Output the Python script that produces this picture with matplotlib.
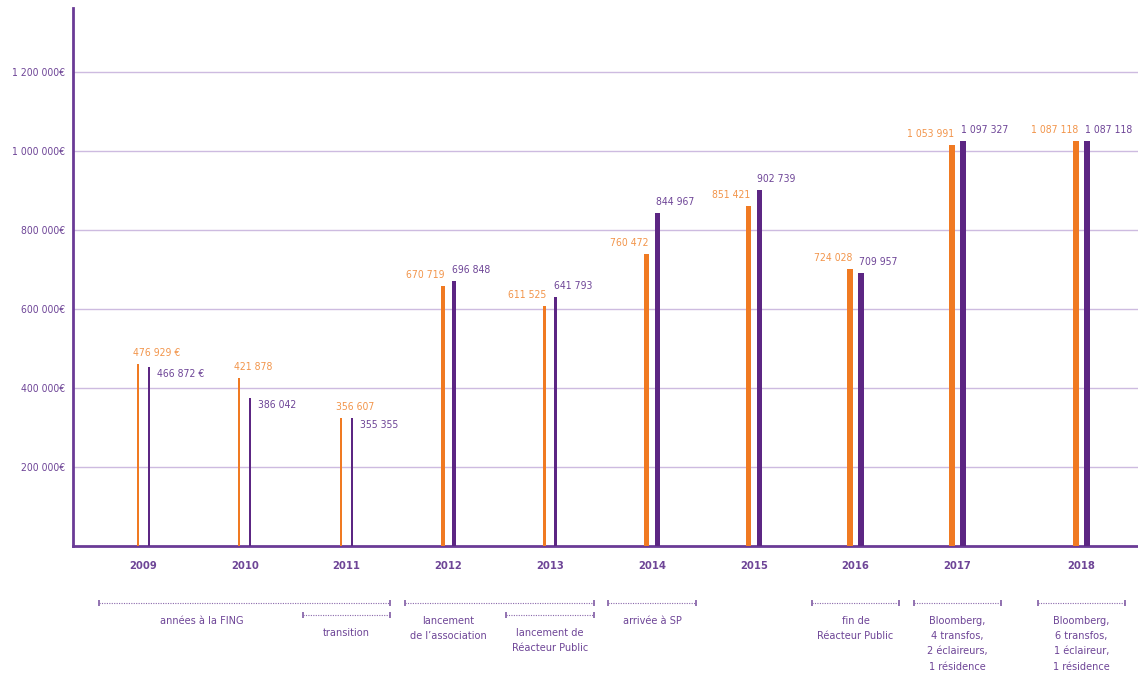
import matplotlib.pyplot as plt
import numpy as np

plt.rcParams['font.family'] = ['DejaVu Sans']
plt.rcParams['font.stretch'] = 'condensed'

# donnees
annees = ['2009', '2010', '2011', '2012', '2013', '2014', '2015', '2016', '2017', '2018']
# hauteur des barres telles que dessinees
budget_orange = [461600, 425500, 324300, 658000, 608000, 738000, 860900, 700200, 1014000, 1025000]
budget_violet = [452600, 375800, 324300, 671600, 629600, 844000, 900600, 691800, 1025000, 1025000]
etiquettes_orange = ['476 929 €', '421 878', '356 607', '670 719', '611 525', '760 472',
                     '851 421', '724 028', '1 053 991', '1 087 118']
etiquettes_violet = ['466 872 €', '386 042', '355 355', '696 848', '641 793', '844 967',
                     '902 739', '709 957', '1 097 327', '1 087 118']
graduations = [200000, 400000, 600000, 800000, 1000000, 1200000]

# periodes sous l'axe
periodes = ['années à la FING', 'transition', 'lancement\nde l’association',
            'lancement de\nRéacteur Public', 'arrivée à SP', 'fin de\nRéacteur Public',
            'Bloomberg,\n4 transfos,\n2 éclaireurs,\n1 résidence',
            'Bloomberg,\n6 transfos,\n1 éclaireur,\n1 résidence']
periode_debut = [0, 2, 3, 4, 5, 7, 8, 9]
periode_fin = [2, 2, 4, 4, 5, 7, 8, 9]
periode_rang = [0, 1, 0, 1, 0, 0, 0, 0]

orange = '#f07a22'
orange_txt = '#f2954b'
violet = '#5c2683'
violet_txt = '#6e4597'
violet_clair = '#cdbbe0'

W, H = 1138, 673
fig = plt.figure(figsize=(W / 100, H / 100), dpi=100)
ax = fig.add_axes([73 / W, 1 - 546 / H, 1 - 73 / W, 538 / H])

px = 1 / 101.8  # largeur d'un pixel en unites de l'axe x
x = np.arange(len(annees), dtype=float)
x[-1] += 0.22
largeurs = np.array([2, 2, 2, 3.5, 3.5, 5.5, 5.5, 5.5, 6, 6.3]) * px
x_o = x - 5.5 * px
x_v = x + 5.5 * px

ax.bar(x_o, budget_orange, width=largeurs, color=orange, zorder=3)
ax.bar(x_v, budget_violet, width=largeurs, color=violet, zorder=3)

pt = 0.72  # pixels -> points
fs = 7.5
for i in range(len(annees)):
    if i < 3:
        ax.annotate(etiquettes_orange[i], (x_o[i], budget_orange[i]), xytext=(-5 * pt, 8 * pt),
                    textcoords='offset points', ha='left', va='baseline', color=orange_txt, fontsize=fs)
        ax.annotate(etiquettes_violet[i], (x_v[i], budget_violet[i]), xytext=(8 * pt, -10 * pt),
                    textcoords='offset points', ha='left', va='baseline', color=violet_txt, fontsize=fs)
    else:
        ax.annotate(etiquettes_orange[i], (x_o[i], budget_orange[i]), xytext=(2 * pt, 8 * pt),
                    textcoords='offset points', ha='right', va='baseline', color=orange_txt, fontsize=fs)
        ax.annotate(etiquettes_violet[i], (x_v[i], budget_violet[i]), xytext=(-2 * pt, 8 * pt),
                    textcoords='offset points', ha='left', va='baseline', color=violet_txt, fontsize=fs)

ax.set_xlim(-0.688, 9.774)
ax.set_ylim(0, 1362000)
ax.set_xticks(x)
ax.set_xticklabels(annees, fontsize=8, fontweight='bold', color=violet_txt)
ax.set_yticks(graduations)
ax.set_yticklabels([f"{v:,}".replace(',', ' ') + '€' for v in graduations], fontsize=7.5, color=violet_txt)
ax.tick_params(axis='both', length=0)
ax.tick_params(axis='x', pad=11)
ax.tick_params(axis='y', pad=6)

ax.yaxis.grid(True, color=violet_clair, lw=1)
ax.set_axisbelow(True)
for s in ['top', 'right']:
    ax.spines[s].set_visible(False)
for s in ['left', 'bottom']:
    ax.spines[s].set_color('#6a3b96')
    ax.spines[s].set_linewidth(2)

# accolades pointillees et textes des periodes
trans = ax.get_xaxis_transform()
rangs_y = [-57 / 538, -69 / 538]
for nom, d, f, r in zip(periodes, periode_debut, periode_fin, periode_rang):
    x0, x1 = x[d] - 0.43, x[f] + 0.43
    y = rangs_y[r]
    ax.plot([x0, x1], [y, y], transform=trans, clip_on=False, color='#8a68ab',
            lw=0.8, ls=(0, (1, 1.2)))
    ax.plot([x0, x1], [y, y], transform=trans, clip_on=False, color='#8a68ab',
            ls='none', marker='|', ms=4, mew=1.3)
    xt = x[d] + 0.58 if nom == 'années à la FING' else x[d]
    ax.annotate(nom, (xt, y), xycoords=trans, xytext=(0, -13 * pt), textcoords='offset points',
                ha='center', va='top', fontsize=7.8, color=violet_txt, linespacing=1.65,
                annotation_clip=False)

fig.savefig('out.png', dpi=100)
